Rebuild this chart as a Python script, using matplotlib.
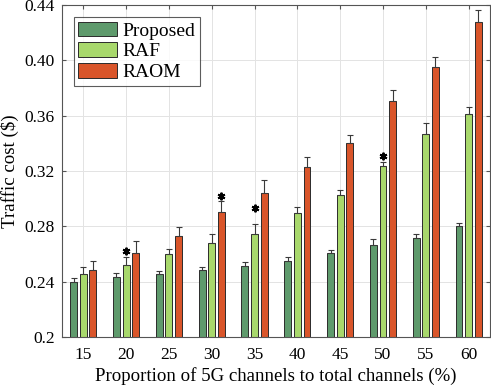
import numpy as np
import matplotlib
matplotlib.use("Agg")
import matplotlib.pyplot as plt

# proportion of 5G channels (%)
proportions = [15, 20, 25, 30, 35, 40, 45, 50, 55, 60]

# mean traffic cost per method
proposed = [0.240, 0.243, 0.2455, 0.2484, 0.2510, 0.2546, 0.2607, 0.2664, 0.2717, 0.2799]
raf = [0.2455, 0.2522, 0.2599, 0.2683, 0.2748, 0.2895, 0.3030, 0.3235, 0.3466, 0.3610]
raom = [0.2484, 0.2607, 0.2729, 0.2903, 0.3040, 0.3230, 0.3405, 0.3708, 0.3951, 0.4279]

# upper error bar lengths
proposed_err = [0.0025, 0.0031, 0.0024, 0.0021, 0.0029, 0.0032, 0.0021, 0.0044, 0.0027, 0.0026]
raf_err = [0.0050, 0.0056, 0.0039, 0.0063, 0.0072, 0.0044, 0.0036, 0.0029, 0.0079, 0.0053]
raom_err = [0.0065, 0.0088, 0.0067, 0.0079, 0.0096, 0.0070, 0.0058, 0.0078, 0.0070, 0.0082]

# significance stars: (group index, series index, y)
stars = [(1, 1, 0.2625), (3, 2, 0.3020), (4, 1, 0.2930), (7, 1, 0.3308)]

labels = ["Proposed", "RAF", "RAOM"]
colors = ["#5E9A6C", "#A8D86C", "#D9552A"]
ytick_vals = [0.2, 0.24, 0.28, 0.32, 0.36, 0.40, 0.44]
ytick_labels = ["0.2", "0.24", "0.28", "0.32", "0.36", "0.40", "0.44"]

plt.rcParams["font.family"] = ["Liberation Serif", "DejaVu Serif"]

fig = plt.figure(figsize=(4.91, 3.90), dpi=100)
ax = fig.add_axes([0.126, 0.136, 0.872, 0.851])

x = np.arange(1, len(proportions) + 1)
width = 0.16
offsets = [-0.225, 0.0, 0.225]
series = [proposed, raf, raom]
errs = [proposed_err, raf_err, raom_err]

ax.set_axisbelow(True)
ax.grid(True, color="#E3E3E3", linewidth=0.7)

for vals, err, off, col, lab in zip(series, errs, offsets, colors, labels):
    ax.bar(x + off, vals, width, color=col, edgecolor="#2B2B2B", linewidth=0.7,
           label=lab, zorder=2)
    ax.errorbar(x + off, vals, yerr=[np.zeros(len(err)), err], fmt="none",
                ecolor="#3A3A3A", elinewidth=0.8, capsize=2.5, capthick=0.8, zorder=3)

for gi, si, yv in stars:
    ax.plot(x[gi] + offsets[si], yv, marker=(6, 2, 0), color="black", markersize=5.5,
            markeredgewidth=1.4, linestyle="none", zorder=4)

ax.set_xlim(0.5, len(proportions) + 0.5)
ax.set_ylim(0.2, 0.44)
ax.set_xticks(x)
ax.set_xticklabels([str(p) for p in proportions])
ax.set_yticks(ytick_vals)
ax.set_yticklabels(ytick_labels)
ax.tick_params(direction="in", top=True, right=True, labelsize=12.5, length=3,
               color="#555555")
ax.tick_params(axis="x", pad=7)
ax.tick_params(axis="y", pad=5)
for sp in ax.spines.values():
    sp.set_color("#555555")
    sp.set_linewidth(0.8)

ax.set_xlabel("Proportion of 5G channels to total channels (%)", fontsize=13.6, labelpad=3)
ax.set_ylabel("Traffic cost ($)", fontsize=13.6, labelpad=4)

leg = ax.legend(loc="upper left", fontsize=14, frameon=True, fancybox=False,
                edgecolor="#333333", handlelength=2.0, handleheight=0.8,
                handletextpad=0.25, borderpad=0.25, labelspacing=0.12,
                borderaxespad=0.6)
leg.get_frame().set_linewidth(0.8)

fig.savefig("out.png", dpi=100)
